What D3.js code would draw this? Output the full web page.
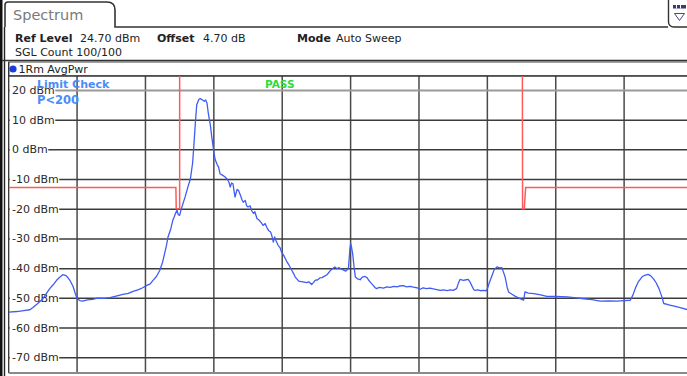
<!DOCTYPE html>
<html>
<head>
<meta charset="utf-8">
<script src="https://cdn.jsdelivr.net/npm/d3@7/dist/d3.min.js"></script>
<style>
  html, body { margin: 0; padding: 0; background: #fff; }
  svg { display: block; font-family: "DejaVu Sans", Verdana, sans-serif; }
</style>
</head>
<body>
<svg id="chart" width="687" height="376"></svg>
<script>
// Level axis (dBm), reference level at the top, 10 dB per division
const refLevel = 24.7;
const dbPerDiv = 10;
const levelTicks = [20, 10, 0, -10, -20, -30, -40, -50, -60, -70];
const levelTickLabels = levelTicks.map(v => v + " dBm");

// Sweep points (0..1000) and averaged power trace in dBm
const sweepPoints = [
  0, 12, 22, 31, 35, 42, 50, 55, 60, 65, 70, 75, 79, 83, 86, 90, 94, 97, 100, 104,
  108, 115, 123, 130, 140, 148, 157, 167, 175, 182, 190, 196, 202, 207, 211, 216, 221, 225, 228, 231,
  233, 237, 240, 242, 244, 246, 248, 250, 252, 255, 258, 262, 265, 266, 269, 271, 273, 275, 278, 280,
  283, 286, 288, 290, 292, 295, 297, 300, 302, 305, 307, 309, 312, 316, 319, 322, 324, 326, 328, 331,
  334, 336, 339, 341, 343, 346, 348, 350, 353, 355, 358, 360, 363, 366, 369, 372, 375, 378, 380, 383,
  385, 387, 389, 391, 394, 397, 399, 402, 405, 407, 410, 414, 417, 419, 422, 424, 428, 432, 436, 439,
  443, 446, 448, 452, 455, 458, 462, 465, 467, 470, 473, 477, 480, 483, 485, 489, 493, 496, 497, 499,
  500, 501, 503, 505, 507, 510, 514, 517, 521, 524, 526, 529, 533, 536, 538, 542, 548, 553, 558, 563,
  568, 572, 577, 582, 587, 592, 597, 602, 606, 611, 616, 621, 626, 631, 636, 641, 646, 650, 655, 658,
  660, 665, 669, 672, 675, 677, 680, 682, 686, 690, 694, 698, 700, 703, 707, 710, 714, 718, 721, 723,
  726, 729, 731, 736, 741, 747, 753, 754, 755, 760, 768, 778, 787, 800, 817, 830, 841, 853, 865, 878,
  890, 900, 909, 913, 917, 921, 926, 930, 935, 939, 943, 947, 951, 955, 958, 963, 968, 975, 982, 993,
  1000
];
const traceDbm = [
  -54.8, -54.6, -54.3, -54.0, -53.3, -52.0, -50.3, -48.6, -46.9, -45.6, -44.1, -43.0, -42.2, -42.4, -43.0, -44.3, -46.1, -48.3, -50.3, -50.9,
  -51.1, -50.7, -50.5, -50.1, -50.2, -49.9, -49.4, -48.8, -48.5, -47.8, -47.2, -46.6, -45.8, -45.3, -44.1, -42.8, -40.7, -38.0, -35.1, -32.0,
  -29.5, -26.8, -23.9, -22.8, -21.5, -20.5, -22.0, -22.2, -20.4, -18.2, -16.0, -12.7, -10.5, -9.5, -4.5, 2.0, 9.0, 15.0, 16.8, 17.1,
  16.7, 16.2, 16.6, 15.6, 12.0, 8.0, 4.1, -0.9, -3.5, -5.2, -6.0, -8.2, -8.6, -9.2, -9.9, -11.0, -12.7, -11.3, -11.6, -16.1,
  -13.5, -13.8, -15.5, -16.9, -17.8, -17.2, -19.0, -19.4, -19.0, -20.5, -21.6, -21.0, -23.3, -23.8, -24.6, -25.6, -25.0, -26.5, -27.3, -27.8,
  -29.2, -31.2, -29.5, -30.8, -32.3, -33.2, -34.6, -35.6, -37.0, -37.9, -39.0, -40.7, -42.0, -43.0, -43.8, -44.4, -44.5, -44.7, -44.9, -44.6,
  -45.5, -44.8, -44.1, -43.9, -43.3, -43.2, -42.7, -42.3, -41.8, -40.9, -40.3, -39.6, -40.2, -39.8, -40.2, -40.6, -41.0, -40.3, -39.6, -33.5,
  -31.7, -32.5, -35.1, -39.5, -43.0, -43.6, -43.9, -43.0, -42.8, -43.2, -43.9, -44.8, -45.8, -46.6, -46.9, -46.5, -46.7, -46.3, -46.5, -46.1,
  -46.3, -46.0, -45.9, -46.3, -46.1, -46.4, -46.6, -47.1, -46.6, -46.9, -46.7, -47.0, -47.2, -47.5, -47.3, -47.6, -47.3, -47.5, -46.9, -44.8,
  -43.8, -44.1, -43.9, -43.8, -44.8, -45.8, -47.2, -47.5, -47.3, -47.6, -47.5, -47.6, -47.0, -44.8, -42.4, -40.5, -39.6, -39.9, -39.8, -41.0,
  -43.0, -46.5, -48.0, -48.8, -49.5, -50.2, -50.8, -49.5, -48.0, -48.4, -48.6, -49.0, -49.5, -49.5, -49.7, -50.0, -50.3, -50.6, -51.1, -51.0,
  -51.1, -50.9, -50.8, -49.0, -46.4, -44.5, -43.0, -42.4, -42.1, -42.6, -43.6, -45.0, -46.9, -49.5, -51.9, -52.2, -52.5, -52.9, -53.3, -54.0,
  -54.2
];

// Upper limit line (two segments), limit of 200 dBm inside the pass band
const limitLeftPoints  = [0, 244.5, 245, 250, 250];
const limitLeftDbm     = [-12.8, -12.8, -20, -20, 200];
const limitRightPoints = [750, 751.5, 754, 756, 1000];
const limitRightDbm    = [200, -20, -20, -12.8, -12.8];

// Header texts
const headerRow1 = [["Ref Level", true, 15], ["24.70 dBm", false, 80], ["Offset", true, 157],
                    ["4.70 dB", false, 203], ["Mode", true, 297], ["Auto Sweep", false, 336]];
const headerRow2 = "SGL Count 100/100";
const traceLabel = "1Rm AvgPwr";
const limitTexts = ["Limit Check", "P<200"];
const limitResult = "PASS";

const svg = d3.select("#chart");
const W = 687;

const plot = { left: 8.7, right: 692.5, top: 76, bottom: 373 };
const x = d3.scaleLinear().domain([0, 1000]).range([plot.left, plot.right]);
const y = d3.scaleLinear()
  .domain([refLevel, refLevel - 10 * dbPerDiv])
  .range([plot.top, plot.bottom]);

// ---- Window frame ----
svg.append("rect").attr("x", 0).attr("y", 0).attr("width", 2.5).attr("height", 376).attr("fill", "#111");
svg.append("line").attr("x1", 4.5).attr("x2", 4.5).attr("y1", 27).attr("y2", 376)
  .attr("stroke", "#222").attr("stroke-width", 1.4);

// Tab "Spectrum"
svg.append("path")
  .attr("d", "M5,27 L5,5 Q5,2 8,2 L107,2 Q115,2 115,10 L115,27 L668,27")
  .attr("fill", "#fff").attr("stroke", "#333").attr("stroke-width", 1.6);
svg.append("text").attr("x", 13).attr("y", 20).attr("font-size", 14.5)
  .attr("fill", "#7a7a7a").text("Spectrum");

// Menu button at top right
svg.append("rect").attr("x", 668.5).attr("y", -6).attr("width", 30).attr("height", 33).attr("rx", 5)
  .attr("fill", "#fff").attr("stroke", "#333").attr("stroke-width", 1.4);
svg.append("rect").attr("x", 673).attr("y", 5).attr("width", 13).attr("height", 3.5).attr("fill", "#3a3a70");
[676.5, 680.5].forEach(px => svg.append("line").attr("x1", px).attr("x2", px).attr("y1", 5).attr("y2", 8.5)
  .attr("stroke", "#fff").attr("stroke-width", 1));
svg.append("path").attr("d", "M674.5,13.5 L684.5,13.5 L679.5,20.5 Z")
  .attr("fill", "none").attr("stroke", "#4a4a7a").attr("stroke-width", 1);

// Header parameter rows
const row1 = svg.append("text").attr("y", 42).attr("font-size", 11).attr("fill", "#222");
headerRow1.forEach(([t, bold, px]) => {
  svg.append("text").attr("x", px).attr("y", 42).attr("font-size", 11)
    .attr("font-weight", bold ? "bold" : "normal").attr("fill", "#222").text(t);
});
svg.append("text").attr("x", 15).attr("y", 56).attr("font-size", 11).attr("fill", "#222").text(headerRow2);

svg.append("line").attr("x1", 2).attr("x2", W).attr("y1", 60.5).attr("y2", 60.5)
  .attr("stroke", "#333").attr("stroke-width", 1.6);

// Trace label bar
svg.append("rect").attr("x", plot.left).attr("y", 62).attr("width", W).attr("height", 14)
  .attr("fill", "#fff").attr("stroke", "#444").attr("stroke-width", 1);
svg.append("circle").attr("cx", 13).attr("cy", 69).attr("r", 3.6).attr("fill", "#1a3fd8");
svg.append("text").attr("x", 18.5).attr("y", 73).attr("font-size", 11).attr("fill", "#222").text(traceLabel);

// ---- Diagram ----
const clip = svg.append("clipPath").attr("id", "plotClip")
  .append("rect").attr("x", plot.left).attr("y", plot.top)
  .attr("width", plot.right - plot.left).attr("height", plot.bottom - plot.top);

svg.append("rect").attr("x", plot.left).attr("y", plot.top)
  .attr("width", plot.right - plot.left).attr("height", plot.bottom - plot.top).attr("fill", "#fff");

const grid = svg.append("g").attr("clip-path", "url(#plotClip)");

// Vertical division lines
const xDivs = d3.range(100, 1000, 100);
grid.selectAll("line.v").data(xDivs).join("line").attr("class", "v")
  .attr("x1", d => x(d)).attr("x2", d => x(d))
  .attr("y1", plot.top).attr("y2", plot.bottom)
  .attr("stroke", "#4a4a4a").attr("stroke-width", 1.5);

// Horizontal level lines via a left axis with full-width ticks
const yAxis = d3.axisRight(y).tickValues(levelTicks)
  .tickSize(plot.right - plot.left).tickFormat("");
const ga = grid.append("g").attr("transform", `translate(${plot.left},0)`).call(yAxis);
ga.select(".domain").remove();
ga.selectAll(".tick line")
  .attr("stroke", d => d === 20 ? "#9a9a9a" : "#3c3c3c")
  .attr("stroke-width", d => d === 20 ? 2 : 1.5);

// Level labels sitting on the lines with a white backing
const labels = svg.append("g");
levelTicks.forEach((v, i) => {
  const t = labels.append("text").attr("x", 12).attr("y", y(v)).attr("dy", "0.36em")
    .attr("font-size", 11).attr("fill", "#2a2a2a").text(levelTickLabels[i]);
  const bb = t.node().getBBox();
  labels.insert("rect", "text").attr("x", plot.left + 1).attr("y", bb.y)
    .attr("width", bb.x + bb.width - plot.left - 0.5).attr("height", bb.height).attr("fill", "#fff");
});

// Frame lines
svg.append("line").attr("x1", plot.left).attr("x2", W).attr("y1", plot.top).attr("y2", plot.top)
  .attr("stroke", "#333").attr("stroke-width", 1.3);
svg.append("line").attr("x1", plot.left).attr("x2", plot.left).attr("y1", 62).attr("y2", plot.bottom)
  .attr("stroke", "#333").attr("stroke-width", 1.3);
svg.append("line").attr("x1", plot.left).attr("x2", W).attr("y1", plot.bottom).attr("y2", plot.bottom)
  .attr("stroke", "#8a8a8a").attr("stroke-width", 2);

const marks = svg.append("g").attr("clip-path", "url(#plotClip)");
const line = d3.line().x(d => x(d[0])).y(d => y(d[1]));

// Limit lines
[[limitLeftPoints, limitLeftDbm], [limitRightPoints, limitRightDbm]].forEach(([px, db]) => {
  marks.append("path").datum(d3.zip(px, db)).attr("d", line)
    .attr("fill", "none").attr("stroke", "#ff5a5a").attr("stroke-width", 1.5);
});

// Trace
marks.append("path").datum(d3.zip(sweepPoints, traceDbm)).attr("d", line)
  .attr("fill", "none").attr("stroke", "#3f5cf5").attr("stroke-width", 1.3)
  .attr("stroke-linejoin", "round");

// Limit check annotation
svg.append("text").attr("x", 37).attr("y", 88).attr("font-size", 11).attr("font-weight", "bold")
  .attr("fill", "#4a8df8").text(limitTexts[0]);
svg.append("text").attr("x", 37).attr("y", 103.5).attr("font-size", 11.5).attr("font-weight", "bold")
  .attr("fill", "#4a8df8").text(limitTexts[1]);
svg.append("text").attr("x", 265).attr("y", 88).attr("font-size", 10.5).attr("font-weight", "bold")
  .attr("fill", "#2bdc3a").text(limitResult);
</script>
</body>
</html>
